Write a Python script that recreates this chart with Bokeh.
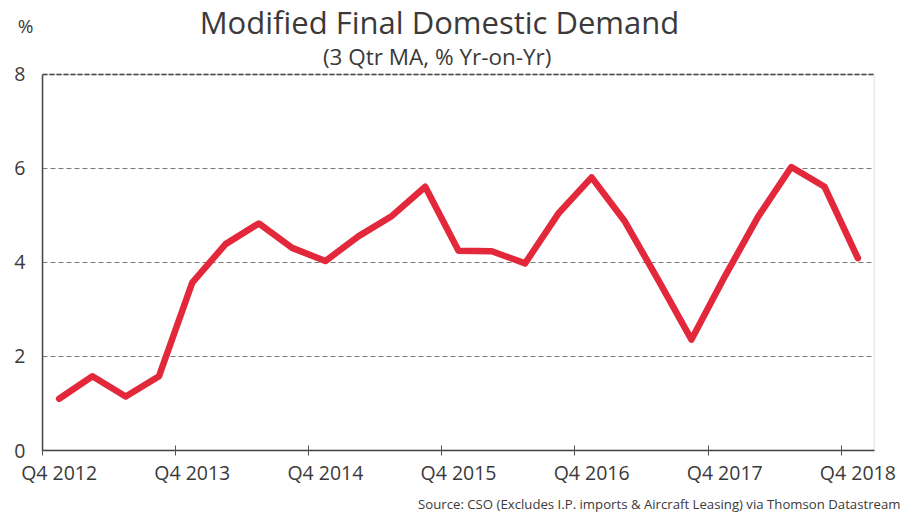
from bokeh.plotting import figure
from bokeh.layouts import column
from bokeh.models import FixedTicker, Range1d, Span, Title, Label, BoxAnnotation
from bokeh.core.properties import value
from bokeh.embed import file_html
from bokeh.resources import INLINE

# ---- data ----
quarters = ["Q4 2012", "Q1 2013", "Q2 2013", "Q3 2013",
            "Q4 2013", "Q1 2014", "Q2 2014", "Q3 2014",
            "Q4 2014", "Q1 2015", "Q2 2015", "Q3 2015",
            "Q4 2015", "Q1 2016", "Q2 2016", "Q3 2016",
            "Q4 2016", "Q1 2017", "Q2 2017", "Q3 2017",
            "Q4 2017", "Q1 2018", "Q2 2018", "Q3 2018",
            "Q4 2018"]
mfdd = [1.10, 1.58, 1.15, 1.58,
        3.57, 4.39, 4.83, 4.31,
        4.03, 4.56, 4.99, 5.61,
        4.25, 4.24, 3.98, 5.04,
        5.81, 4.87, 3.63, 2.36,
        3.70, 4.97, 6.03, 5.61,
        4.09]
tick_labels = ["Q4 2012", "Q4 2013", "Q4 2014", "Q4 2015", "Q4 2016", "Q4 2017", "Q4 2018"]
y_ticks = [0, 2, 4, 6, 8]
y_max = 8

title_text = "Modified Final Domestic Demand"
subtitle_text = "(3 Qtr MA, % Yr-on-Yr)"
unit_text = "%"
source_text = "Source: CSO (Excludes I.P. imports & Aircraft Leasing) via Thomson Datastream"

FONT = "Open Sans"
TXT = "#3a3a3a"
W = 917
HEAD_H = 42
FRAME_L, FRAME_R = 42, 874
PX_PER_UNIT = 47.125          # vertical scale of the main frame (0 at y=451, 8 at y=74)

# ---- header (title, and the unit as a label of the header's left axis) ----
head = figure(width=W, height=HEAD_H, output_backend="svg", toolbar_location=None,
              x_range=Range1d(FRAME_L, FRAME_R), y_range=Range1d(HEAD_H, 0),
              x_axis_type=None, min_border=0)
head.outline_line_color = None
head.xgrid.grid_line_color = None
head.ygrid.grid_line_color = None
head.text(x=[439], y=[21.8], text=[title_text], text_align="center", text_baseline="alphabetic",
          text_font=value(FONT), text_font_size="31px", text_color=TXT)
hy = head.yaxis[0]
hy.ticker = FixedTicker(ticks=[25])
hy.major_label_overrides = {25: unit_text}
hy.axis_line_color = None
hy.major_tick_line_color = None
hy.minor_tick_line_color = None
hy.major_tick_in = 0
hy.major_tick_out = 0
hy.major_label_standoff = 9
hy.major_label_text_font = FONT
hy.major_label_text_font_size = "19px"
hy.major_label_text_color = TXT

# ---- main chart ----
x = [i + 0.5 for i in range(len(quarters))]
label_pos = [quarters.index(t) + 0.5 for t in tick_labels]
boundaries = [quarters.index(t) for t in tick_labels]

# frame starts right under the header; the space above 8 holds the subtitle
y_top = y_max + (74 - HEAD_H) / PX_PER_UNIT
p = figure(width=W, height=516 - HEAD_H, output_backend="svg", toolbar_location=None,
           x_range=Range1d(0, len(quarters)), y_range=Range1d(0, y_top),
           min_border_left=FRAME_L, min_border_right=W - FRAME_R, min_border_top=0,
           min_border_bottom=65)
p.outline_line_color = None
p.background_fill_color = "white"
p.border_fill_color = "white"

p.line(x, mfdd, line_color="#E2283A", line_width=6.5, line_join="round", line_cap="round")

# x axis
xa = p.xaxis[0]
xa.ticker = FixedTicker(ticks=label_pos, minor_ticks=boundaries)
xa.major_label_overrides = {pos: lab for pos, lab in zip(label_pos, tick_labels)}
xa.major_tick_line_color = None
xa.major_tick_in = 0
xa.major_tick_out = 0
xa.minor_tick_line_color = "#555555"
xa.minor_tick_in = 5
xa.minor_tick_out = 5
xa.axis_line_color = "#444444"
xa.axis_line_width = 1.5
xa.major_label_text_font = FONT
xa.major_label_text_font_size = "19.5px"
xa.major_label_text_color = TXT
xa.major_label_standoff = 3

# y axis
ya = p.yaxis[0]
ya.ticker = FixedTicker(ticks=y_ticks)
ya.bounds = (0, y_max)
ya.major_tick_line_color = None
ya.minor_tick_line_color = None
ya.major_tick_in = 0
ya.major_tick_out = 0
ya.axis_line_color = "#444444"
ya.axis_line_width = 1.5
ya.major_label_text_font = FONT
ya.major_label_text_font_size = "19.5px"
ya.major_label_text_color = TXT
ya.major_label_standoff = 17

p.xgrid.grid_line_color = None
p.ygrid.ticker = FixedTicker(ticks=[2, 4, 6])
p.ygrid.grid_line_color = "#7a7a7a"
p.ygrid.grid_line_dash = "5 3"
p.ygrid.grid_line_width = 1.2

# plot box: right border + dashed top line
p.add_layout(BoxAnnotation(left=0, right=len(quarters), bottom=0, top=y_max,
                           fill_color=None, fill_alpha=0, line_color="#777777",
                           line_width=1.5, level="underlay"))
p.add_layout(Span(location=y_max, dimension="width", line_color="#444444",
                  line_dash="5 2", line_width=1.5))

# subtitle inside the frame, above the plot box
p.add_layout(Label(x=11.86, y=8.38, text=subtitle_text, text_align="center",
                   text_baseline="alphabetic", text_font=FONT, text_font_size="22.5px",
                   text_color=TXT))

p.add_layout(Title(text=source_text, align="right", offset=-26, standoff=8,
                   text_font=FONT, text_font_size="13.2px", text_font_style="normal",
                   text_color=TXT), "below")

layout = column(head, p, spacing=0)
open("out.html", "w").write(file_html(layout, INLINE))
